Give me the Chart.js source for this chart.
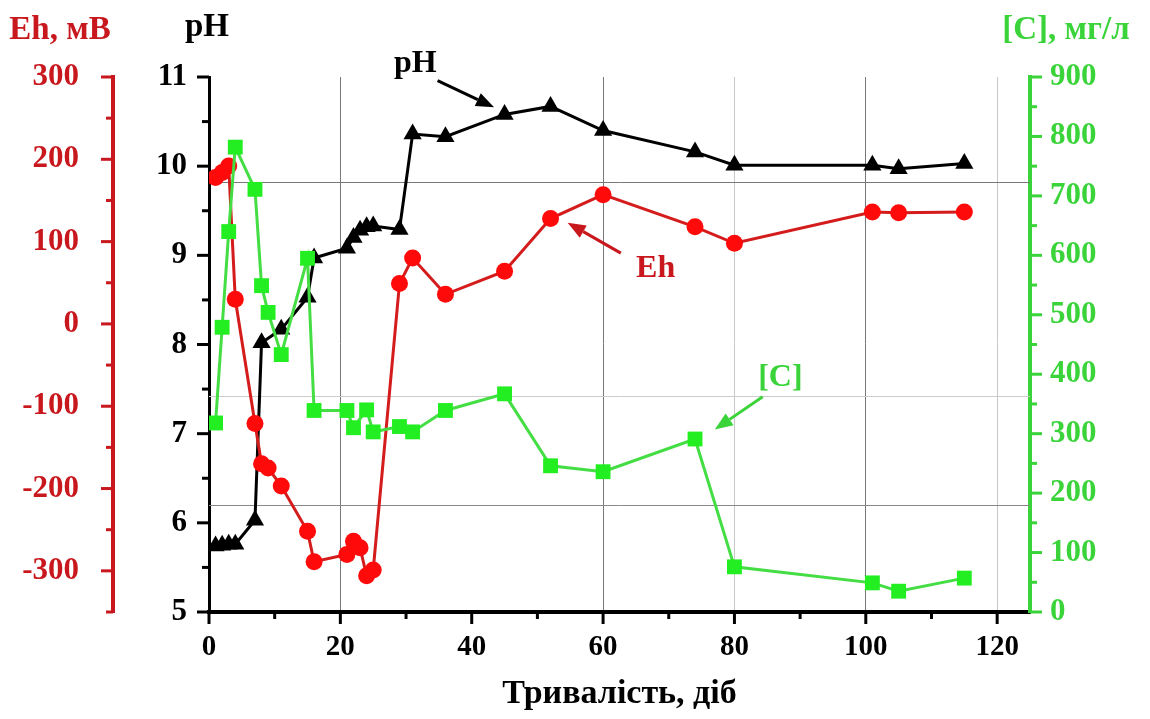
<!DOCTYPE html>
<html>
<head>
<meta charset="utf-8">
<script src="https://cdn.jsdelivr.net/npm/chart.js@4"></script>
<style>
  html, body { margin: 0; padding: 0; background: #fff; }
</style>
</head>
<body>
<canvas id="myChart" width="1150" height="719"></canvas>
<script>
// days of sampling and the three measured series (null = not measured that day)
const days       = [1, 2, 3, 4, 7, 8, 9, 11, 15, 16, 21, 22, 23, 24, 25, 29, 31, 36, 45, 52, 60, 74, 80, 101, 105, 115];
const phValues   = [5.74, 5.75, 5.76, 5.76, 6.03, 8.02, null, 8.17, 8.53, 8.97, 9.08, 9.2, 9.28, 9.32, 9.33, 9.29, 10.36, 10.33, 10.58, 10.67, 10.4, 10.16, 10.01, 10.01, 9.97, 10.03];
const ehValues   = [178, 184, 192, 30, -121, -170, -175, -197, -252, -289, -280, -264, -272, -306, -299, 49, 80, 36, 64, 128, 157, 118, 98, 136, 135, 136];
const concValues = [318, 479, 640, 782, 711, 549, 504, 433, 595, 339, 339, 310, null, 340, 303, 312, 303, 339, 367, 246, 236, 291, 76, 49, 35, 57];

// x ticks every 10 days, labelled every 20
const dayTicks = [0, 10, 20, 30, 40, 50, 60, 70, 80, 90, 100, 110, 120];

const xTitle = 'Тривалість, діб';
const ehTitle = 'Eh, мВ';
const phTitle = 'pH';
const concTitle = '[C], мг/л';

const RED = '#c8171d';
const GREEN = '#3ad43a';
const FONT = "'Liberation Serif', 'Times New Roman', serif";

function toPoints(ys) {
    return days.map((d, i) => ({ x: d, y: ys[i] })).filter(p => p.y !== null);
}

// short outward tick marks, major where a label is shown
const tickMarks = {
    id: 'tickMarks',
    afterDraw(chart) {
        const ctx = chart.ctx;
        const defs = [
            { id: 'x', color: '#000', dir: 'down' },
            { id: 'yPH', color: '#000', dir: 'left' },
            { id: 'yEh', color: RED, dir: 'left' },
            { id: 'yC', color: GREEN, dir: 'right' }
        ];
        defs.forEach(d => {
            const s = chart.scales[d.id];
            ctx.save();
            ctx.strokeStyle = d.color;
            ctx.lineWidth = 3;
            s.ticks.forEach(t => {
                const len = t.label !== '' ? 12 : 7;
                const p = s.getPixelForValue(t.value);
                ctx.beginPath();
                if (d.dir === 'down') { ctx.moveTo(p, s.top - 2); ctx.lineTo(p, s.top + len); }
                else if (d.dir === 'left') { ctx.moveTo(s.right, p); ctx.lineTo(s.right - len, p); }
                else { ctx.moveTo(s.left, p); ctx.lineTo(s.left + len, p); }
                ctx.stroke();
            });
            ctx.restore();
        });
    }
};

// odd horizontal grid lines of the original, on the pH scale
const hLines = {
    id: 'hLines',
    beforeDatasetsDraw(chart) {
        const ctx = chart.ctx, s = chart.scales.yPH, a = chart.chartArea;
        [[9.82, '#777'], [7.42, '#ccc'], [6.2, '#888']].forEach(([v, c]) => {
            const y = Math.round(s.getPixelForValue(v)) + 0.5;
            ctx.save();
            ctx.strokeStyle = c;
            ctx.lineWidth = 1;
            ctx.beginPath(); ctx.moveTo(a.left, y); ctx.lineTo(a.right, y); ctx.stroke();
            ctx.restore();
        });
    }
};

function arrow(ctx, x1, y1, x2, y2, color) {
    const ang = Math.atan2(y2 - y1, x2 - x1);
    const hl = 18, hw = 7;
    ctx.save();
    ctx.strokeStyle = color; ctx.fillStyle = color; ctx.lineWidth = 3;
    ctx.beginPath();
    ctx.moveTo(x1, y1);
    ctx.lineTo(x2 - Math.cos(ang) * hl, y2 - Math.sin(ang) * hl);
    ctx.stroke();
    ctx.beginPath();
    ctx.moveTo(x2, y2);
    ctx.lineTo(x2 - Math.cos(ang) * hl - Math.sin(ang) * hw, y2 - Math.sin(ang) * hl + Math.cos(ang) * hw);
    ctx.lineTo(x2 - Math.cos(ang) * hl + Math.sin(ang) * hw, y2 - Math.sin(ang) * hl - Math.cos(ang) * hw);
    ctx.closePath();
    ctx.fill();
    ctx.restore();
}

// axis headers above the plot and the series call-outs
const labelsPlugin = {
    id: 'labelsPlugin',
    afterDraw(chart) {
        const ctx = chart.ctx;
        const sx = chart.scales.x, ph = chart.scales.yPH, eh = chart.scales.yEh, c = chart.scales.yC;
        ctx.save();
        ctx.textAlign = 'center';
        ctx.textBaseline = 'middle';
        ctx.font = `bold 33px ${FONT}`;
        ctx.fillStyle = RED;
        ctx.fillText(ehTitle, 60, 30);
        ctx.fillStyle = '#000';
        ctx.fillText(phTitle, 207, 27);
        ctx.fillStyle = GREEN;
        ctx.fillText(concTitle, 1066, 30);

        ctx.font = `bold 32px ${FONT}`;
        ctx.fillStyle = '#000';
        ctx.fillText('pH', sx.getPixelForValue(31.4), ph.getPixelForValue(11.15));
        arrow(ctx, sx.getPixelForValue(34.8), ph.getPixelForValue(10.96), sx.getPixelForValue(43.4), ph.getPixelForValue(10.66), '#000');

        ctx.fillStyle = RED;
        ctx.fillText('Eh', sx.getPixelForValue(68), eh.getPixelForValue(67));
        arrow(ctx, sx.getPixelForValue(62.7), eh.getPixelForValue(86), sx.getPixelForValue(54.6), eh.getPixelForValue(123), RED);

        ctx.fillStyle = GREEN;
        ctx.fillText('[C]', sx.getPixelForValue(87), c.getPixelForValue(394));
        arrow(ctx, sx.getPixelForValue(84.3), c.getPixelForValue(362), sx.getPixelForValue(77), c.getPixelForValue(307), GREEN);
        ctx.restore();
    }
};

const ctx = document.getElementById('myChart').getContext('2d');
const myChart = new Chart(ctx, {
    type: 'line',
    data: {
        datasets: [{
            label: 'pH',
            data: toPoints(phValues),
            yAxisID: 'yPH',
            borderColor: '#000',
            backgroundColor: '#000',
            borderWidth: 3,
            pointStyle: 'triangle',
            pointRadius: 10.5,
            pointBorderWidth: 0,
            order: 2
        }, {
            label: 'Eh',
            data: toPoints(ehValues),
            yAxisID: 'yEh',
            borderColor: '#d41c1c',
            backgroundColor: '#ff0a0a',
            borderWidth: 3,
            pointStyle: 'circle',
            pointRadius: 8.5,
            pointBorderWidth: 0,
            order: 1
        }, {
            label: '[C]',
            data: toPoints(concValues),
            yAxisID: 'yC',
            borderColor: '#44dd44',
            backgroundColor: '#22ee22',
            borderWidth: 3,
            pointStyle: 'rect',
            pointRadius: 10.5,
            pointBorderWidth: 0,
            order: 0
        }]
    },
    options: {
        responsive: false,
        devicePixelRatio: 1,
        animation: false,
        layout: { padding: { top: 77, left: 0, right: 0, bottom: 0 } },
        plugins: { legend: { display: false }, tooltip: { enabled: false } },
        scales: {
            x: {
                type: 'linear',
                min: 0,
                max: 125,
                afterFit: s => { s.height = 107; },
                afterBuildTicks: s => { s.ticks = dayTicks.map(v => ({ value: v })); },
                ticks: {
                    autoSkip: false,
                    maxRotation: 0,
                    padding: 18,
                    color: '#000',
                    font: { family: FONT, weight: 'bold', size: 29 },
                    callback: v => v % 20 === 0 ? v : ''
                },
                grid: {
                    drawTicks: false,
                    color: c => {
                        const v = c.tick && c.tick.value;
                        if (v === 20 || v === 60 || v === 100) return '#777';
                        if (v === 80 || v === 120) return '#c8c8c8';
                        return 'rgba(0,0,0,0)';
                    },
                    lineWidth: 1
                },
                border: { color: '#000', width: 4 },
                title: {
                    display: true,
                    text: xTitle,
                    color: '#000',
                    font: { family: FONT, weight: 'bold', size: 34 },
                    padding: { top: 10 }
                }
            },
            yPH: {
                position: 'left',
                weight: 0,
                min: 5,
                max: 11,
                afterFit: s => { s.width = 96; },
                ticks: {
                    stepSize: 0.5,
                    autoSkip: false,
                    padding: 22,
                    color: '#000',
                    font: { family: FONT, weight: 'bold', size: 31 },
                    callback: v => Number.isInteger(v) ? v : ''
                },
                grid: { drawOnChartArea: false, drawTicks: false },
                border: { color: '#000', width: 3 }
            },
            yEh: {
                position: 'left',
                weight: 1,
                min: -350,
                max: 300,
                afterFit: s => { s.width = 113; },
                ticks: {
                    stepSize: 50,
                    autoSkip: false,
                    padding: 34,
                    color: RED,
                    font: { family: FONT, weight: 'bold', size: 31 },
                    callback: v => v % 100 === 0 ? v : ''
                },
                grid: { drawOnChartArea: false, drawTicks: false },
                border: { color: RED, width: 4 }
            },
            yC: {
                position: 'right',
                min: 0,
                max: 900,
                afterFit: s => { s.width = 120; },
                ticks: {
                    stepSize: 50,
                    autoSkip: false,
                    padding: 20,
                    color: GREEN,
                    font: { family: FONT, weight: 'bold', size: 31 },
                    callback: v => v % 100 === 0 ? v : ''
                },
                grid: { drawOnChartArea: false, drawTicks: false },
                border: { color: GREEN, width: 4 }
            }
        }
    },
    plugins: [hLines, tickMarks, labelsPlugin]
});
</script>
</body>
</html>
